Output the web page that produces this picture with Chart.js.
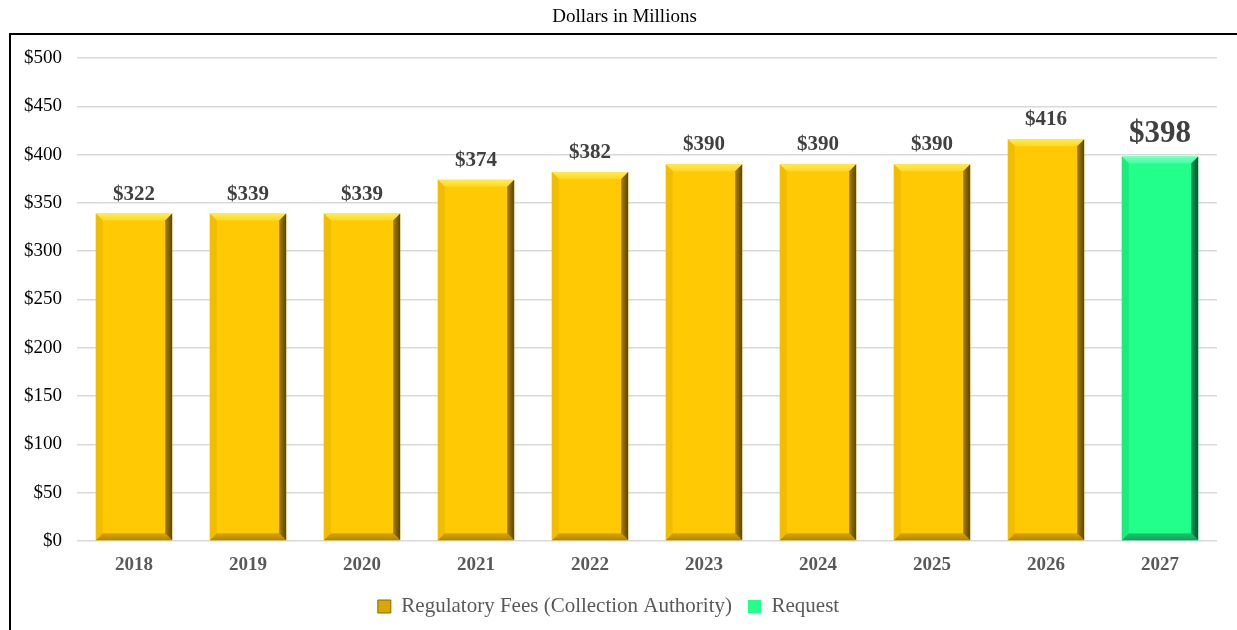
<!DOCTYPE html>
<html>
<head>
<meta charset="utf-8">
<script src="https://cdn.jsdelivr.net/npm/chart.js@4.4.1/dist/chart.umd.min.js"></script>
<style>
  html, body { margin: 0; padding: 0; background: #fff; }
  #wrap { position: relative; width: 1237px; height: 630px; overflow: hidden; }
  #frame { position: absolute; left: 9px; top: 33px; width: 1240px; height: 620px; border-top: 2px solid #000; border-left: 2px solid #000; }
  #c { position: absolute; left: 0; top: 0; }
</style>
</head>
<body>
<div id="wrap">
  <div id="frame"></div>
  <canvas id="c" width="1237" height="630"></canvas>
</div>
<script>
// ---- Data ----
const years = ['2018', '2019', '2020', '2021', '2022', '2023', '2024', '2025', '2026', '2027'];
const feesValues = [339, 339, 339, 374, 382, 390, 390, 390, 416, null];
const requestValues = [null, null, null, null, null, null, null, null, null, 398];
const valueLabels = ['$322', '$339', '$339', '$374', '$382', '$390', '$390', '$390', '$416', '$398'];
const yTicks = [0, 50, 100, 150, 200, 250, 300, 350, 400, 450, 500];
const seriesNames = ['Regulatory Fees (Collection Authority)', 'Request'];
const chartTitle = 'Dollars in Millions';

const FONT = "'Liberation Serif', 'Times New Roman', serif";

const bevelPlugin = {
  id: 'bevel',
  afterDatasetsDraw(chart) {
    const ctx = chart.ctx;
    chart.data.datasets.forEach((ds, di) => {
      const meta = chart.getDatasetMeta(di);
      const pal = ds.bevel;
      meta.data.forEach((el, i) => {
        if (ds.data[i] == null) return;
        const w = el.width, l = el.x - w / 2, r = el.x + w / 2, t = el.y, b = el.base;
        const s = 7;
        ctx.save();
        ctx.beginPath(); ctx.moveTo(l, t); ctx.lineTo(r, t); ctx.lineTo(r - s, t + s); ctx.lineTo(l + s, t + s); ctx.closePath();
        let g = ctx.createLinearGradient(0, t, 0, t + s);
        g.addColorStop(0, pal.top0); g.addColorStop(1, pal.top1);
        ctx.fillStyle = g; ctx.fill();
        ctx.beginPath(); ctx.moveTo(l, t); ctx.lineTo(l + s, t + s); ctx.lineTo(l + s, b - s); ctx.lineTo(l, b); ctx.closePath();
        ctx.fillStyle = pal.left; ctx.fill();
        ctx.beginPath(); ctx.moveTo(l, b); ctx.lineTo(l + s, b - s); ctx.lineTo(r - s, b - s); ctx.lineTo(r, b); ctx.closePath();
        g = ctx.createLinearGradient(0, b - s, 0, b);
        g.addColorStop(0, pal.bot0); g.addColorStop(1, pal.bot1);
        ctx.fillStyle = g; ctx.fill();
        ctx.beginPath(); ctx.moveTo(r, t); ctx.lineTo(r, b); ctx.lineTo(r - s, b - s); ctx.lineTo(r - s, t + s); ctx.closePath();
        g = ctx.createLinearGradient(r - s, 0, r, 0);
        g.addColorStop(0, pal.right0); g.addColorStop(1, pal.right1);
        ctx.fillStyle = g; ctx.fill();
        ctx.restore();
      });
    });
  }
};

const labelPlugin = {
  id: 'valueLabels',
  afterDatasetsDraw(chart) {
    const ctx = chart.ctx;
    chart.data.datasets.forEach((ds, di) => {
      const meta = chart.getDatasetMeta(di);
      meta.data.forEach((el, i) => {
        if (ds.data[i] == null) return;
        const big = di === 1;
        ctx.save();
        ctx.font = 'bold ' + (big ? 31 : 21) + 'px ' + FONT;
        ctx.fillStyle = '#404040';
        ctx.textAlign = 'center';
        ctx.textBaseline = 'alphabetic';
        ctx.fillText(valueLabels[i], el.x, el.y - (big ? 15 : 14));
        ctx.restore();
      });
    });
  }
};

const titlePlugin = {
  id: 'topTitle',
  afterDraw(chart) {
    const ctx = chart.ctx;
    ctx.save();
    ctx.font = '19px ' + FONT;
    ctx.fillStyle = '#000';
    ctx.textAlign = 'center';
    ctx.textBaseline = 'middle';
    ctx.fillText(chartTitle, 624.5, 17);
    ctx.restore();
  }
};

new Chart(document.getElementById('c'), {
  type: 'bar',
  data: {
    labels: years,
    datasets: [
      {
        label: seriesNames[0],
        data: feesValues,
        backgroundColor: '#FFC904',
        borderWidth: 0,
        categoryPercentage: 1,
        barPercentage: 0.67,
        bevel: { top0: '#FFEB55', top1: '#FFD81E', left: '#F2BC00', bot0: '#D9A500', bot1: '#B38600', right0: '#A67E00', right1: '#5C4500' }
      },
      {
        label: seriesNames[1],
        data: requestValues,
        backgroundColor: '#22FF8B',
        borderWidth: 0,
        categoryPercentage: 1,
        barPercentage: 0.67,
        bevel: { top0: '#7BFFC0', top1: '#40FFA0', left: '#1CEB80', bot0: '#19C870', bot1: '#12A05A', right0: '#139A55', right1: '#0A5530' }
      }
    ]
  },
  options: {
    responsive: false,
    animation: false,
    events: [],
    datasets: { bar: { grouped: false, skipNull: true } },
    layout: { padding: { left: 0, right: 20, top: 58, bottom: 3 } },
    plugins: {
      title: { display: false },
      legend: {
        position: 'bottom',
        labels: {
          color: '#595959',
          font: { family: FONT, size: 21 },
          boxWidth: 13,
          boxHeight: 13,
          padding: 16,
          generateLabels(chart) {
            return chart.data.datasets.map((ds, i) => ({
              text: ds.label,
              fillStyle: i === 0 ? '#D9A800' : '#22FF8B',
              strokeStyle: i === 0 ? '#8A6A00' : '#22FF8B',
              lineWidth: i === 0 ? 1 : 0,
              fontColor: '#595959',
              datasetIndex: i
            }));
          }
        }
      },
      tooltip: { enabled: false }
    },
    scales: {
      x: {
        afterFit(scale) { scale.height = scale.height - 9; },
        grid: { display: false, drawTicks: false },
        border: { display: false },
        ticks: { color: '#595959', font: { family: FONT, size: 19, weight: 'bold' }, padding: 12.6 }
      },
      y: {
        min: 0,
        max: 500,
        afterBuildTicks(scale) { scale.ticks = yTicks.map(v => ({ value: v })); },
        afterFit(scale) { scale.width = 77; },
        grid: { color: '#D9D9D9', lineWidth: 1.5, drawTicks: false },
        border: { display: false },
        ticks: {
          color: '#000',
          font: { family: FONT, size: 19 },
          padding: 15,
          callback: v => '$' + v
        }
      }
    }
  },
  plugins: [bevelPlugin, labelPlugin, titlePlugin]
});
</script>
</body>
</html>
